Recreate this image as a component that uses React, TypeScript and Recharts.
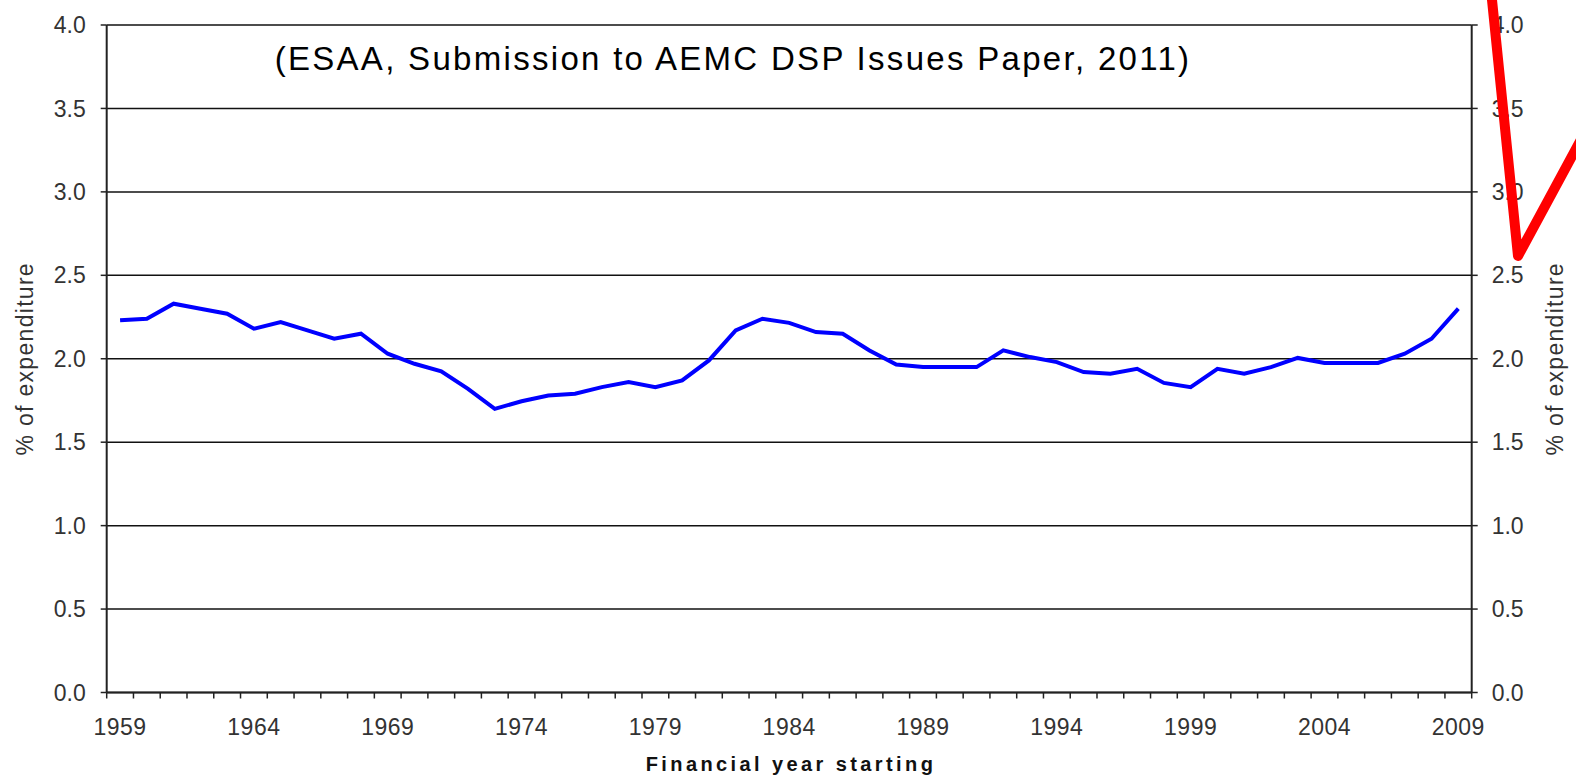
import { LineChart, Line, XAxis, YAxis, CartesianGrid } from "recharts";

const years = [
  1959, 1960, 1961, 1962, 1963, 1964, 1965, 1966, 1967, 1968,
  1969, 1970, 1971, 1972, 1973, 1974, 1975, 1976, 1977, 1978,
  1979, 1980, 1981, 1982, 1983, 1984, 1985, 1986, 1987, 1988,
  1989, 1990, 1991, 1992, 1993, 1994, 1995, 1996, 1997, 1998,
  1999, 2000, 2001, 2002, 2003, 2004, 2005, 2006, 2007, 2008, 2009,
];

// % of expenditure
const expenditure = [
  2.23, 2.24, 2.33, 2.3, 2.27, 2.18, 2.22, 2.17, 2.12, 2.15,
  2.03, 1.97, 1.925, 1.82, 1.7, 1.745, 1.78, 1.79, 1.83, 1.86,
  1.83, 1.87, 1.99, 2.17, 2.24, 2.215, 2.16, 2.15, 2.05, 1.965,
  1.95, 1.95, 1.95, 2.05, 2.01, 1.98, 1.92, 1.91, 1.94, 1.855,
  1.83, 1.94, 1.91, 1.95, 2.005, 1.975, 1.975, 1.975, 2.03, 2.12, 2.3,
];

const yearLabels = [1959, 1964, 1969, 1974, 1979, 1984, 1989, 1994, 1999, 2004, 2009];
const yTicks = [0, 0.5, 1, 1.5, 2, 2.5, 3, 3.5, 4];

const title = "(ESAA, Submission to AEMC DSP Issues Paper, 2011)";
const xTitle = "Financial year starting";
const yTitle = "% of expenditure";

const data = years.map((year, i) => ({ year, value: expenditure[i] }));

// tick marks sit on the year boundaries, labels in the middle of each year
const boundaries = [...years.map((y) => y - 0.5), years[years.length - 1] + 0.5];
const xTicks = [...boundaries, ...yearLabels];

const FONT = "'Liberation Sans', Arial, Helvetica, sans-serif";
const tickStyle = { fontSize: 23, fill: "#333", fontFamily: FONT };
const yTitleStyle = { textAnchor: "middle", fontSize: 23, fill: "#333", fontFamily: FONT, letterSpacing: 1.3 };

function XTick(props: { x?: number; y?: number; payload?: { value: number } }) {
  const { x, y, payload } = props;
  if (x == null || y == null || !payload) return null;
  if (!Number.isInteger(payload.value)) {
    return <line x1={x} x2={x} y1={y} y2={y + 6} stroke="#222" strokeWidth={1.5} />;
  }
  return (
    <text
      x={x}
      y={y + 42}
      textAnchor="middle"
      fontSize={23}
      letterSpacing={0.5}
      fill="#333"
      fontFamily={FONT}
    >
      {payload.value}
    </text>
  );
}

export default function App() {
  return (
    <div style={{ position: "absolute", left: 0, top: 0, width: 1576, height: 778, background: "#fff" }}>
      <LineChart
        width={1576}
        height={778}
        data={data}
        margin={{ top: 25, right: 0, bottom: 0, left: 0 }}
      >
        <CartesianGrid yAxisId="left" vertical={false} stroke="#111" strokeWidth={1.5} />
        <XAxis
          dataKey="year"
          type="number"
          domain={[1958.5, 2009.5]}
          ticks={xTicks}
          interval={0}
          height={85.5}
          tickSize={0}
          tickMargin={0}
          tickLine={false}
          axisLine={{ stroke: "#222", strokeWidth: 2 }}
          tick={<XTick />}
        />
        <YAxis
          yAxisId="left"
          domain={[0, 4]}
          ticks={yTicks}
          width={106.7}
          tickSize={6}
          tickMargin={15}
          tickFormatter={(v: number) => v.toFixed(1)}
          tick={tickStyle}
          tickLine={{ stroke: "#222", strokeWidth: 1.5 }}
          axisLine={{ stroke: "#222", strokeWidth: 2 }}
          label={{ value: yTitle, angle: -90, position: "insideLeft", offset: 25, style: yTitleStyle }}
        />
        <YAxis
          yAxisId="right"
          orientation="right"
          domain={[0, 4]}
          allowDataOverflow
          ticks={yTicks}
          width={104.3}
          tickSize={6}
          tickMargin={14}
          tickFormatter={(v: number) => v.toFixed(1)}
          tick={tickStyle}
          tickLine={{ stroke: "#222", strokeWidth: 1.5 }}
          axisLine={{ stroke: "#222", strokeWidth: 2 }}
          label={{ value: yTitle, angle: -90, position: "insideRight", offset: 21, style: yTitleStyle }}
        />
        <Line
          yAxisId="left"
          type="linear"
          dataKey="value"
          stroke="#0000ff"
          strokeWidth={4}
          dot={false}
          activeDot={false}
          isAnimationActive={false}
        />
      </LineChart>
      <svg
        width={1576}
        height={778}
        style={{ position: "absolute", left: 0, top: 0, pointerEvents: "none" }}
      >
        <text
          x={733}
          y={70}
          textAnchor="middle"
          fontSize={33}
          letterSpacing={2.3}
          fill="#000"
          fontFamily={FONT}
        >
          {title}
        </text>
        <text
          x={791}
          y={771}
          textAnchor="middle"
          fontSize={20}
          fontWeight="bold"
          letterSpacing={3.4}
          fill="#111"
          fontFamily={FONT}
        >
          {xTitle}
        </text>
        <polyline
          points="1491,-10 1518,256 1605,95"
          fill="none"
          stroke="#ff0000"
          strokeWidth={10}
          strokeLinejoin="round"
          strokeLinecap="round"
        />
      </svg>
    </div>
  );
}
